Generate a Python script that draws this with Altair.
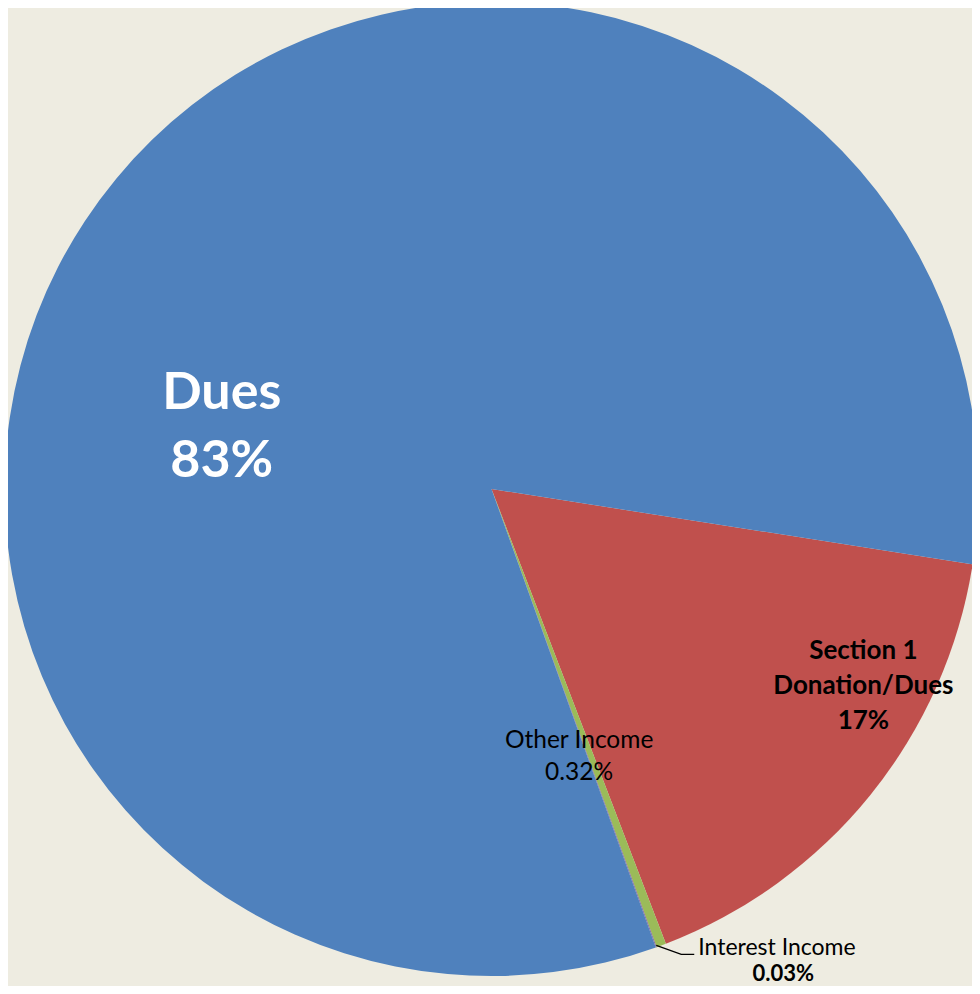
import math
import altair as alt
import pandas as pd

# ---- data ----
categories = ["Section 1 Donation/Dues", "Other Income", "Interest Income", "Dues"]
shares = [16.70, 0.32, 0.03, 82.95]
pct_labels = ["17%", "0.32%", "0.03%", "83%"]
colors = ["#C0504D", "#9BBB59", "#8064A2", "#4F81BD"]
slice_order = [1, 2, 3, 4]

# ---- layout ----
W, H = 964, 978
CX, CY = 483.5, 481
R = 487
START_DEG = 98.9
FONT = "Lato"
BG = "#EEECE1"

start = math.radians(START_DEG)
theta_scale = alt.Scale(range=[start, start + 2 * math.pi])

df = pd.DataFrame({"cat": categories, "share": shares, "pct": pct_labels, "ord": slice_order})
df["dues_txt"] = ["", "", "", "Dues\n83%"]
df["sec_txt"] = ["Section 1\nDonation/Dues\n17%", "", "", ""]
df["oth_txt"] = ["", "Other Income\n0.32%", "", ""]
df["int_name"] = ["", "", "Interest Income", ""]
df["int_pct"] = ["", "", "0.03%", ""]

# leader line for Interest Income, anchored at its slice's mid angle on the rim
total = sum(shares)
before = sum(shares[:2])
a_mid = start + 2 * math.pi * (before + shares[2] / 2) / total
ax, ay = CX + R * math.sin(a_mid), CY - R * math.cos(a_mid)
leader = pd.DataFrame({"x": [ax, ax + 25, ax + 38], "y": [ay - 2, ay + 7, ay + 7], "i": [0, 1, 2]})

base_enc = dict(
    theta=alt.Theta("share:Q", stack=True, scale=theta_scale),
    order=alt.Order("ord:Q"),
    x=alt.value(CX),
    y=alt.value(CY),
)

pie = alt.Chart(df).mark_arc(outerRadius=R, stroke=None).encode(
    color=alt.Color("cat:N", scale=alt.Scale(domain=categories, range=colors), legend=None),
    **base_enc,
)


def label(field, size, weight, color, radius, dx, dy, align="center", lh=None):
    kw = dict(radius=radius, dx=dx, dy=dy, fontSize=size, fontWeight=weight, color=color,
              font=FONT, align=align, baseline="middle", lineBreak="\n")
    if lh:
        kw["lineHeight"] = lh
    return alt.Chart(df).mark_text(**kw).encode(text=f"{field}:N", **base_enc)


dues_lbl = label("dues_txt", 52, "bold", "white", 280, -54, 82, lh=68)
sec_lbl = label("sec_txt", 26, "bold", "black", 414, 50, -98, lh=35)
oth_lbl = label("oth_txt", 24.5, "normal", "black", 280, -10, -10, lh=32)
int_name = label("int_name", 23, "normal", "black", R, 42, 1, align="left")
int_pct = label("int_pct", 22, "bold", "black", R, 127, 27)

lead = alt.Chart(leader).mark_line(color="black", strokeWidth=1.3).encode(
    x=alt.X("x:Q", scale=alt.Scale(domain=[0, W], range=[0, W], nice=False, zero=False), axis=None),
    y=alt.Y("y:Q", scale=alt.Scale(domain=[0, H], range=[0, H], nice=False, zero=False), axis=None),
    order="i:Q",
)

chart = alt.layer(pie, lead, dues_lbl, sec_lbl, oth_lbl, int_name, int_pct).properties(
    width=W, height=H, padding=0, autosize=alt.AutoSizeParams(type="none"), background=BG
).configure_view(stroke=None)

chart.save("out.html", embed_options={"renderer": "svg", "actions": False})
